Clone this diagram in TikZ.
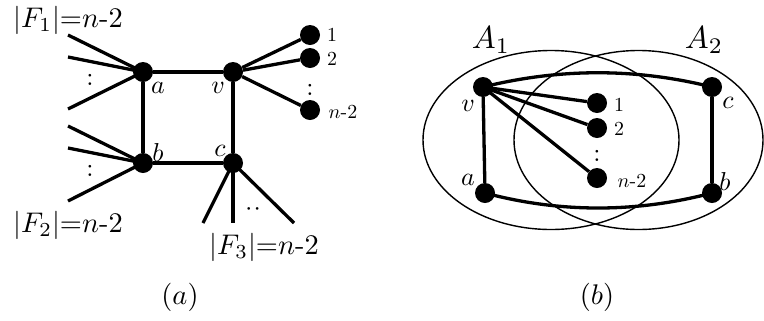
\documentclass[tikz,border=0pt]{standalone}
\begin{document}
\begin{tikzpicture}[x=1bp,y=-1bp,
  vtx/.style={circle,fill=black,minimum size=20bp,inner sep=0pt},
  edge/.style={line width=3.3bp},
  thin ring/.style={line width=1.4bp},
  lbl/.style={scale=2.6,inner sep=0pt},
  sml/.style={scale=2.0,inner sep=0pt},
  big/.style={scale=2.85,inner sep=0pt},
  huge/.style={scale=3.2,inner sep=0pt},
  dotsym/.style={scale=2.6,inner sep=0pt}]
\useasboundingbox[fill=white] (0,0) rectangle (764,320);

% ---------- (a) ----------
\node[vtx] (a) at (143,72) {};
\node[vtx] (v) at (233,72) {};
\node[vtx] (b) at (143,163) {};
\node[vtx] (c) at (233,163) {};
\node[vtx] (w1) at (310,35) {};
\node[vtx] (w2) at (310,58) {};
\node[vtx] (wn) at (310,110) {};

\draw[edge] (a) -- (v);
\draw[edge] (a) -- (b);
\draw[edge] (b) -- (c);
\draw[edge] (v) -- (c);
\draw[edge] (v) -- (w1);
\draw[edge] (v) -- (w2);
\draw[edge] (v) -- (wn);

\coordinate (f11) at (68,35);
\coordinate (f12) at (68,57);
\coordinate (f13) at (68,109);
\coordinate (f21) at (68,126);
\coordinate (f22) at (68,148);
\coordinate (f23) at (68,201);
\coordinate (f31) at (203,223);
\coordinate (f32) at (233,223);
\coordinate (f33) at (294,223);
\draw[edge] (a.center) -- (f11);
\draw[edge] (a.center) -- (f12);
\draw[edge] (a.center) -- (f13);
\draw[edge] (b.center) -- (f21);
\draw[edge] (b.center) -- (f22);
\draw[edge] (b.center) -- (f23);
\draw[edge] (c.center) -- (f31);
\draw[edge] (c.center) -- (f32);
\draw[edge] (c.center) -- (f33);

\node[dotsym] (d1) at (90,80) {:};
\node[dotsym] (d2) at (90,171) {:};
\node[dotsym,rotate=90] (d3) at (253,209) {:};
\node[dotsym] (d4) at (310,90) {:};

\node[lbl] (la) at (158,88) {$a$};
\node[lbl] (lv) at (218,88) {$v$};
\node[lbl] (lb) at (158,152) {$b$};
\node[lbl] (lc) at (220,151) {$c$};
\node[sml] (l1) at (332,35) {1};
\node[sml] (l2) at (332,59) {2};
\node[sml] (ln) at (343,112) {$n$-2};

\node[big] (F1) at (68,20) {$|F_1|{=}n$-2};
\node[big] (F2) at (68,225) {$|F_2|{=}n$-2};
\node[big] (F3) at (264,247) {$|F_3|{=}n$-2};
\node[big] (capa) at (180,297) {$(a)$};

% ---------- (b) ----------
\draw[thin ring] (551,140) ellipse [x radius=128, y radius=89.5];
\draw[thin ring] (638.5,140) ellipse [x radius=124.5, y radius=89.5];

\node[vtx] (bv) at (483,87) {};
\node[vtx] (ba) at (485,193) {};
\node[vtx] (bc) at (712,87) {};
\node[vtx] (bb) at (712,193) {};
\node[vtx] (u1) at (597,103) {};
\node[vtx] (u2) at (597,128) {};
\node[vtx] (un) at (597,178) {};

\draw[edge] (bv) -- (ba);
\draw[edge] (bc) -- (bb);
\draw[edge] (bv.center) .. controls (560,68) and (636,68) .. (bc.center);
\draw[edge] (ba.center) .. controls (560,213) and (636,213) .. (bb.center);
\draw[edge] (bv.center) -- (u1);
\draw[edge] (bv.center) -- (u2);
\draw[edge] (bv.center) -- (un);

\node[dotsym] (d5) at (597,156) {:};

\node[lbl] (lbv) at (468,106) {$v$};
\node[lbl] (lba) at (468,180) {$a$};
\node[lbl] (lbc) at (728,103) {$c$};
\node[lbl] (lbb) at (725,181) {$b$};
\node[sml] (m1) at (619,105) {1};
\node[sml] (m2) at (619,129) {2};
\node[sml] (mn) at (632,181) {$n$-2};

\node[huge] (A1) at (491,40) {$A_1$};
\node[huge] (A2) at (704,40) {$A_2$};
\node[big] (capb) at (597,297) {$(b)$};
\end{tikzpicture}
\end{document}
